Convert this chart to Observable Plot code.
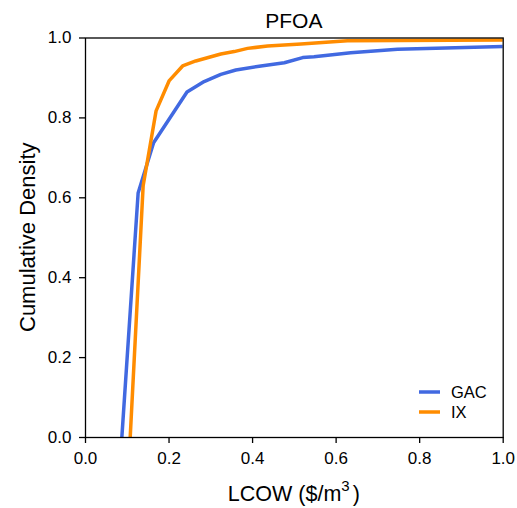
<!DOCTYPE html>
<html><head><meta charset="utf-8">
<script src="https://cdn.jsdelivr.net/npm/d3@7"></script>
<script src="https://cdn.jsdelivr.net/npm/@observablehq/plot@0.6"></script>
<style>
body{margin:0;background:#fff;}
#chart svg{font-family:"Liberation Sans",Arial,sans-serif;display:block;}
</style>
</head><body><div id="chart"></div>
<script>
const seriesNames = ["GAC", "IX"];
const seriesColors = ["#4169E1", "#FF8C00"];
const gacLcow    = [0.087, 0.126, 0.163, 0.243, 0.284, 0.324, 0.36, 0.42, 0.476, 0.52, 0.547, 0.635, 0.747, 1.0];
const gacDensity = [0, 0.612, 0.738, 0.865, 0.891, 0.909, 0.92, 0.93, 0.938, 0.951, 0.953, 0.963, 0.972, 0.979];
const ixLcow     = [0.107, 0.138, 0.169, 0.2, 0.2325, 0.264, 0.324, 0.356, 0.388, 0.436, 0.516, 0.627, 1.0];
const ixDensity  = [0, 0.63, 0.8175, 0.8925, 0.93, 0.9425, 0.96, 0.966, 0.974, 0.98, 0.985, 0.993, 0.995];
const xTicks = [0, 0.2, 0.4, 0.6, 0.8, 1.0];
const yTicks = [0, 0.2, 0.4, 0.6, 0.8, 1.0];
const titleText = "PFOA";
const yLabelText = "Cumulative Density";
const xLabelMain = "LCOW ($/m";
const xLabelSup = "3";
const xLabelEnd = ")";

const data = [
  ...gacLcow.map((x, i) => ({lcow: x, density: gacDensity[i], series: seriesNames[0]})),
  ...ixLcow.map((x, i) => ({lcow: x, density: ixDensity[i], series: seriesNames[1]}))
];

const W = 517, H = 508;
const mL = 85, mR = 14.3, mT = 37.5, mB = 71;

const plot = Plot.plot({
  width: W, height: H,
  marginLeft: mL, marginRight: mR, marginTop: mT, marginBottom: mB,
  style: {fontFamily: "Liberation Sans, Arial, sans-serif", fontSize: "17px", background: "#fff", color: "#000", overflow: "visible"},
  x: {domain: [0, 1]},
  y: {domain: [0, 1]},
  color: {domain: seriesNames, range: seriesColors},
  marks: [
    Plot.line(data, {x: "lcow", y: "density", z: "series", stroke: "series", strokeWidth: 3.5, clip: true, strokeLinejoin: "round"}),
    Plot.frame({stroke: "#000", strokeWidth: 1.3}),
    Plot.axisX({ticks: xTicks, tickSize: 6, tickPadding: 8, tickFormat: d => d.toFixed(1), label: null, strokeWidth: 1.3, fontSize: 17}),
    Plot.axisY({ticks: yTicks, tickSize: 6, tickPadding: 8, tickFormat: d => d.toFixed(1), label: null, strokeWidth: 1.3, fontSize: 17})
  ]
});
document.getElementById("chart").appendChild(plot);

const svg = d3.select(plot);
const cx = mL + (W - mL - mR) / 2;
// title
svg.append("text").attr("x", cx).attr("y", 28).attr("text-anchor", "middle")
  .attr("font-size", 21).attr("fill", "#000").text(titleText);
// x label
const xl = svg.append("text").attr("x", cx).attr("y", 501).attr("text-anchor", "middle")
  .attr("font-size", 21.5).attr("fill", "#000");
xl.append("tspan").text(xLabelMain);
xl.append("tspan").attr("dy", -10).attr("font-size", 15).text(xLabelSup);
xl.append("tspan").attr("dy", 10).attr("dx", 3).text(xLabelEnd);
// y label
svg.append("text").attr("transform", `translate(35,${mT + (H - mT - mB) / 2}) rotate(-90)`)
  .attr("text-anchor", "middle").attr("font-size", 22).attr("fill", "#000").text(yLabelText);
// legend
const lg = svg.append("g");
seriesNames.forEach((name, i) => {
  const y = 392 + i * 20;
  lg.append("line").attr("x1", 419).attr("x2", 440).attr("y1", y).attr("y2", y)
    .attr("stroke", seriesColors[i]).attr("stroke-width", 3.5);
  lg.append("text").attr("x", 451).attr("y", y).attr("dy", "0.35em").attr("text-anchor", "start")
    .attr("font-size", 16.5).attr("fill", "#000").text(name);
});
</script>
</body></html>
